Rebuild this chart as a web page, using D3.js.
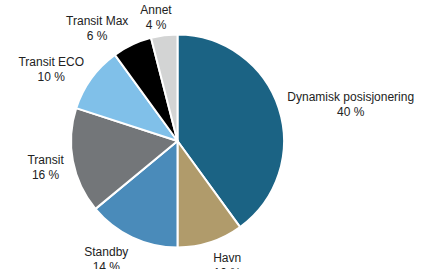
<!DOCTYPE html>
<html>
<head>
<meta charset="utf-8">
<script src="https://cdn.jsdelivr.net/npm/d3@7"></script>
<style>
  html, body { margin: 0; padding: 0; background: #fff; }
  svg { display: block; }
</style>
</head>
<body>
<div id="chart"></div>
<script>
// Data
const categories = [
  "Dynamisk posisjonering",
  "Havn",
  "Standby",
  "Transit",
  "Transit ECO",
  "Transit Max",
  "Annet",
];
const shares = [40, 10, 14, 16, 10, 6, 4];
const colors = ["#1b6384", "#b09b6b", "#4a8bba", "#737679", "#80c0e9", "#000000", "#d3d4d4"];

var width = 431;
var height = 269;
var cx = 177.5;
var cy = 141;
var radius = 106.5;

var svg = d3
  .select("#chart")
  .append("svg")
  .attr("width", width)
  .attr("height", height);

var g = svg.append("g").attr("transform", "translate(" + cx + "," + cy + ")");

var color = d3.scaleOrdinal().domain(categories).range(colors);

var pie = d3
  .pie()
  .sort(null)
  .value(function (d) {
    return d.value;
  });

var data = categories.map(function (c, i) {
  return { label: c, value: shares[i] };
});
var arcs = pie(data);

var arc = d3.arc().innerRadius(0).outerRadius(radius);

// Slices
g.selectAll("path.slice")
  .data(arcs)
  .enter()
  .append("path")
  .attr("class", "slice")
  .attr("d", arc)
  .attr("fill", function (d) {
    return color(d.data.label);
  })
  .attr("stroke", "#fff")
  .attr("stroke-width", 2)
  .attr("stroke-linejoin", "round");

// Labels placed outside the pie, box pushed away from the edge
var gapX = 9;
var gapY = 6;
var lineH = 15;
var labels = g
  .selectAll("g.label")
  .data(arcs)
  .enter()
  .append("g")
  .attr("class", "label");

var txt = labels
  .append("text")
  .attr("text-anchor", "middle")
  .style("font-family", "'Liberation Sans', Arial, sans-serif")
  .style("font-size", "12px")
  .attr("fill", "#222");

txt
  .append("tspan")
  .attr("x", 0)
  .attr("y", -lineH / 2 + 4)
  .text(function (d) {
    return d.data.label;
  });
txt
  .append("tspan")
  .attr("x", 0)
  .attr("y", lineH / 2 + 4)
  .text(function (d) {
    return d.data.value + " %";
  });

labels.attr("transform", function (d) {
  var w = this.getBBox().width;
  var h = 2 * lineH;
  var a = (d.startAngle + d.endAngle) / 2;
  var s = Math.sin(a);
  var c = Math.cos(a);
  var k = Math.max(-1, Math.min(1, s * 3.5));
  var x = (radius + gapX) * s + (w / 2) * k;
  var y = -(radius + gapY) * c - (h / 2) * c + 3;
  return "translate(" + x + "," + y + ")";
});
</script>
</body>
</html>
